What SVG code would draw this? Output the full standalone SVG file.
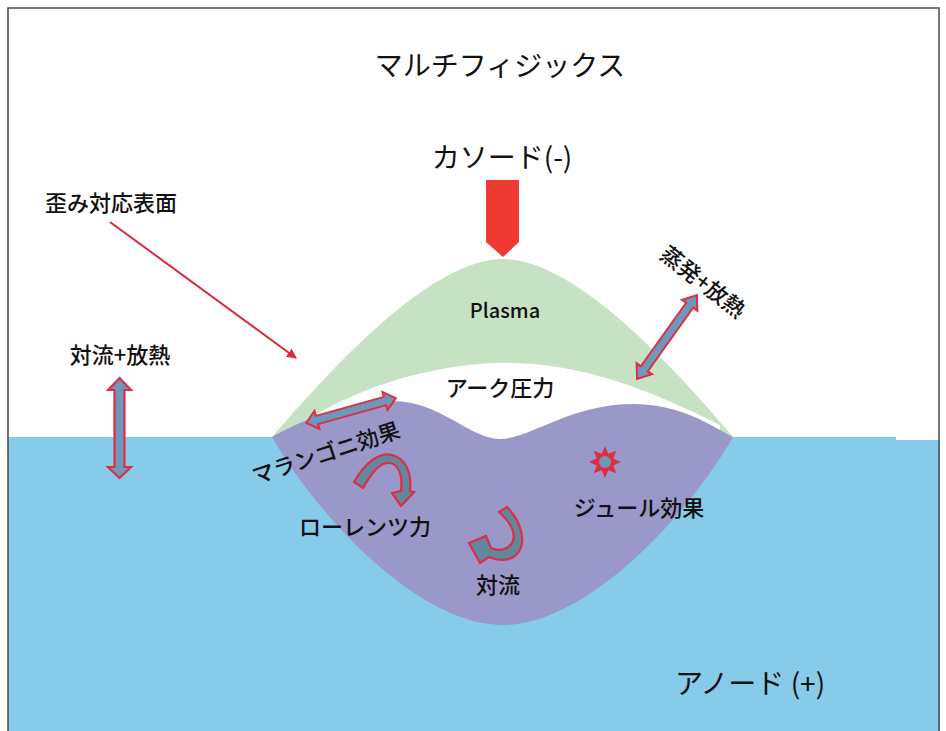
<svg xmlns="http://www.w3.org/2000/svg" width="946" height="731" viewBox="0 0 946 731">
  <defs>
    <style>
      .t { font-family: "Noto Sans CJK JP", "Noto Sans", sans-serif; fill: #111; text-anchor: middle; font-weight: 500; }
      .big { font-size: 28px; font-weight: 400; }
      .lbl { font-size: 22px; }
      .dbl { fill: #6E97BC; stroke: #DD2E42; stroke-width: 2.2; stroke-linejoin: miter; }
      .crv { fill: #62879F; stroke: #DD2E42; stroke-width: 2.2; stroke-linejoin: miter; }
    </style>
    <marker id="head" viewBox="0 0 10 10" refX="9" refY="5" markerWidth="5" markerHeight="5" orient="auto" markerUnits="strokeWidth">
      <path d="M0,0 L10,5 L0,10 Z" fill="#D52B3B"/>
    </marker>
    <!-- horizontal double arrow, length 100, centred on origin -->
    <path id="dblArrow" d="M-50,0 L-38,-11 L-38,-5 L38,-5 L38,-11 L50,0 L38,11 L38,5 L-38,5 L-38,11 Z"/>
  </defs>

  <!-- background and frame -->
  <rect x="0" y="0" width="946" height="731" fill="#FFFFFF"/>
  <g id="anode-bath">
    <rect x="8" y="437" width="888" height="300" fill="#87CBEB"/>
    <rect x="895" y="440" width="45" height="300" fill="#87CBEB"/>
  </g>

  <!-- plasma column -->
  <g id="plasma">
    <path d="M272,437 C330,370 430,259 503,259 C576,259 676,370 733,437 Z" fill="#C6E1C3"/>
    <path d="M280,440 C320,405 400,368 493,363 C570,360 640,385 720,425 L720,440 Z" fill="#FFFFFF"/>
    <text class="t" x="505" y="318" font-size="20">Plasma</text>
  </g>

  <!-- weld pool -->
  <g id="weld-pool">
    <path d="M272,437 C310,415 360,401 393,401 C440,401 470,439 500,439 C530,439 570,404 633,404 C680,404 710,425 733,437 C685,520 585,625 503,625 C420,625 320,520 272,437 Z" fill="#9A97C9"/>
  </g>

  <!-- cathode -->
  <g id="cathode">
    <polygon points="486,180 519,180 519,242 503,257 486,242" fill="#EE3A33"/>
    <text class="t big" x="502" y="168">カソード(-)</text>
  </g>

  <g id="title">
    <text class="t big" x="500" y="76">マルチフィジックス</text>
  </g>

  <g id="anode-label">
    <text class="t big" x="750" y="694">アノード (+)</text>
  </g>

  <g id="deformed-surface">
    <text class="t lbl" x="45" y="211" style="text-anchor:start">歪み対応表面</text>
  </g>

  <g id="arc-pressure">
    <text class="t lbl" x="500" y="396">アーク圧力</text>
  </g>

  <g id="convection-cooling">
    <text class="t lbl" x="120" y="363">対流+放熱</text>
  </g>

  <g id="evaporation-cooling">
    <text class="t lbl" transform="translate(703,282) rotate(38)" x="0" y="8">蒸発+放熱</text>
  </g>

  <g id="marangoni">
    <text class="t lbl" transform="translate(326,453) rotate(-18)" x="0" y="8">マランゴニ効果</text>
  </g>

  <g id="lorentz">
    <text class="t lbl" x="365" y="535">ローレンツ力</text>
  </g>

  <g id="convection">
    <text class="t lbl" x="498" y="593">対流</text>
  </g>

  <g id="joule">
    <polygon fill="#DD2E42" points="605,446 608.4,453.7 616.3,450.7 613.3,458.6 621,462 613.3,465.4 616.3,473.3 608.4,470.3 605,478 601.6,470.3 593.7,473.3 596.7,465.4 589,462 596.7,458.6 593.7,450.7 601.6,453.7"/>
    <circle cx="605" cy="462" r="6" fill="#6E97BC"/>
    <text class="t lbl" x="639" y="516">ジュール効果</text>
  </g>

  <!-- connectors and force arrows -->
  <g id="connectors">
    <line x1="110" y1="222" x2="296" y2="358" stroke="#D52B3B" stroke-width="2" marker-end="url(#head)"/>
    <!-- vertical double arrow at the free surface -->
    <path class="dbl" d="M119.5,378 L131,390 L124.5,390 L124.5,467 L131,467 L119.5,478 L108,467 L114.5,467 L114.5,390 L108,390 Z"/>
    <!-- surface flow -->
    <use href="#dblArrow" class="dbl" transform="translate(351,410.5) rotate(-15.5) scale(0.93,0.85)"/>
    <!-- evaporation -->
    <use href="#dblArrow" class="dbl" transform="translate(667,337) rotate(-54.5) scale(1.03,0.85)"/>
    <!-- Lorentz swirl -->
    <path class="crv" d="M354,482 C365,462 380,452 392,455 C405,458 412,472 410,491 L414,492 L401,506 L392,493 L401,491 C403,475 398,464 390,463 C380,462 372,472 363,488 Z"/>
    <!-- convection swirl -->
    <path class="crv" d="M507,507 C522,522 528,545 515,556 C508,561 497,561 489,557 L480,563 L469,543 L486,536 L491,548 C500,552 510,549 513,541 C516,531 508,520 499,512 Z"/>
  </g>

  <rect x="8" y="8" width="931" height="740" fill="none" stroke="#4A4A4A" stroke-width="1.5"/>
</svg>
